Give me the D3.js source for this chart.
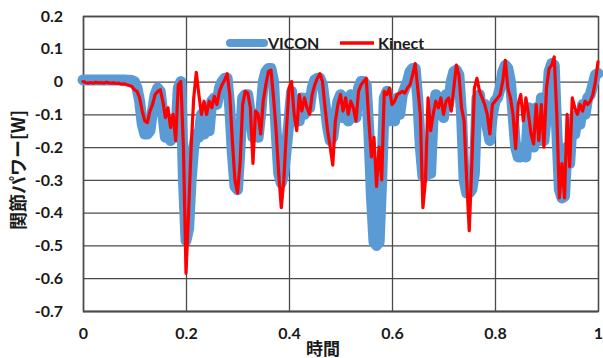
<!DOCTYPE html>
<html>
<head>
<meta charset="utf-8">
<script src="https://cdn.jsdelivr.net/npm/d3@7"></script>
<style>
  body { margin: 0; background: #fff; }
  svg { display: block; }
</style>
</head>
<body>
<svg id="chart" width="603" height="358"></svg>
<script>
// Joint power over normalised time, VICON (optical) vs Kinect estimate
const viconStep = 0.005;  // sample interval of the VICON series
const kinectStep = 0.005; // sample interval of the Kinect series

const viconPower = [
  0.005, 0.005, 0.005, 0.005, 0.005, 0.005, 0.005, 0.005, 0.005, 0.005,
  0.005, 0.005, 0.005, 0.005, 0.005, 0.005, 0.005, 0.004, 0.004, 0.003,
  0.0, -0.02, -0.06, -0.13, -0.16, -0.16, -0.15, -0.09, -0.04, -0.02,
  -0.03, -0.1, -0.17, -0.12, -0.18, -0.14, -0.17, -0.02, 0.0, -0.3,
  -0.485, -0.45, -0.3, -0.2, -0.16, -0.17, -0.1, -0.16, -0.08, -0.15,
  -0.06, -0.05, -0.07, -0.02, 0.0, 0.01, 0.01, -0.08, -0.22, -0.32,
  -0.33, -0.2, -0.05, -0.04, -0.04, -0.1, -0.17, -0.1, -0.17, -0.1,
  0.0, 0.03, 0.04, 0.04, 0.0, -0.15, -0.28, -0.31, -0.28, -0.2,
  -0.12, -0.03, -0.12, -0.06, -0.12, -0.05, -0.1, -0.05, -0.08, -0.02,
  0.005, 0.01, 0.01, -0.01, -0.07, -0.14, -0.18, -0.17, -0.11, -0.06,
  -0.04, -0.11, -0.05, -0.12, -0.04, -0.09, -0.11, -0.02, 0.0, 0.0,
  -0.01, -0.15, -0.35, -0.49, -0.5, -0.49, -0.3, -0.05, -0.03, -0.12,
  -0.06, -0.12, -0.05, -0.1, -0.04, -0.02, 0.0, 0.03, 0.04, 0.04,
  -0.05, -0.2, -0.29, -0.29, -0.2, -0.28, -0.1, -0.04, -0.1, -0.05,
  -0.11, -0.04, -0.07, 0.0, 0.03, 0.035, 0.02, -0.1, -0.3, -0.34,
  -0.34, -0.33, -0.28, -0.05, -0.04, -0.12, -0.07, -0.14, -0.18, -0.1,
  -0.06, -0.05, -0.02, 0.03, 0.05, 0.04, 0.0, -0.1, -0.2, -0.23,
  -0.23, -0.2, -0.23, -0.08, -0.15, -0.2, -0.08, -0.18, -0.05, -0.18,
  -0.1, 0.03, 0.055, 0.05, -0.15, -0.33, -0.355, -0.35, -0.2, -0.25,
  -0.12, -0.16, -0.1, -0.13, -0.07, -0.1, -0.05, -0.04, -0.01, 0.02,
  0.025
];

const kinectPower = [
  0.0, -0.003, -0.005, -0.003, -0.005, -0.002, -0.004, -0.003, -0.005, -0.002,
  -0.004, -0.005, -0.004, -0.006, -0.005, -0.008, -0.007, -0.01, -0.012, -0.015,
  -0.025, -0.03, -0.05, -0.09, -0.12, -0.125, -0.09, -0.07, -0.04, -0.03,
  -0.025, -0.06, -0.11, -0.08, -0.14, -0.1, -0.18, -0.01, 0.0, -0.2,
  -0.585, -0.4, -0.2, -0.05, 0.028, -0.04, -0.1, -0.06, -0.1, -0.06,
  -0.08, -0.045, -0.07, -0.03, -0.01, 0.005, 0.024, -0.04, -0.18, -0.3,
  -0.34, -0.25, -0.07, -0.03, -0.035, -0.08, -0.25, -0.09, -0.1, -0.16,
  -0.06, -0.01, 0.03, 0.035, -0.05, -0.15, -0.28, -0.385, -0.3, -0.15,
  -0.02, 0.0, -0.1, -0.15, -0.04, -0.09, -0.05, -0.08, -0.1, -0.04,
  -0.01, 0.01, 0.024, 0.0, -0.08, -0.15, -0.2, -0.255, -0.12, -0.07,
  -0.04, -0.09, -0.05, -0.1, -0.06, -0.08, -0.12, -0.03, -0.01, 0.0,
  0.01, -0.12, -0.23, -0.17, -0.32, -0.2, -0.3, -0.03, -0.04, -0.02,
  -0.07, -0.06, -0.04, -0.035, -0.03, -0.035, -0.02, -0.01, 0.02, 0.055,
  -0.02, -0.1, -0.385, -0.3, -0.05, -0.15, -0.1, -0.06, -0.08, -0.05,
  -0.1, -0.06, -0.05, -0.09, -0.02, 0.05, 0.02, -0.08, -0.12, -0.3,
  -0.455, -0.25, -0.02, 0.01, -0.03, -0.05, -0.07, -0.1, -0.16, -0.07,
  -0.06, -0.05, -0.04, 0.0, 0.065, -0.02, -0.05, -0.1, -0.205, -0.07,
  -0.04, -0.12, -0.05, -0.1, -0.16, -0.19, -0.07, -0.18, -0.07, -0.2,
  -0.02, 0.04, 0.05, 0.075, -0.1, -0.355, -0.25, -0.355, -0.1, -0.26,
  -0.05, -0.08, -0.1, -0.07, -0.09, -0.06, -0.07, -0.06, -0.04, 0.0,
  0.06
];

const xTickValues = [0, 0.2, 0.4, 0.6, 0.8, 1];
const yTickValues = [0.2, 0.1, 0, -0.1, -0.2, -0.3, -0.4, -0.5, -0.6, -0.7];
const seriesNames = ["VICON", "Kinect"];
const seriesColors = ["#5b9bd5", "#ff0000"];
const xTitle = "時間";
const yTitle = "関節パワー[W]";

const svg = d3.select("#chart");
const plot = { left: 83, right: 598, top: 16, bottom: 311 };

const x = d3.scaleLinear().domain([0, 1]).range([plot.left, plot.right]);
const y = d3.scaleLinear().domain([-0.7, 0.2]).range([plot.bottom, plot.top]);

const labelFont = "Lato, 'Open Sans', sans-serif";
const cjkFont = "'Noto Sans CJK JP', sans-serif";
const gridColor = "#4a4a4a";

// Horizontal gridlines + y tick labels
const yAxis = svg.append("g")
  .attr("transform", `translate(${plot.left},0)`)
  .call(d3.axisLeft(y)
    .tickValues(yTickValues)
    .tickFormat(d => String(d))
    .tickSize(-(plot.right - plot.left))
    .tickPadding(20));
yAxis.select(".domain").attr("stroke", gridColor).attr("stroke-width", 1.3);
yAxis.selectAll(".tick line").attr("stroke", gridColor).attr("stroke-width", 1.3);
yAxis.selectAll(".tick text")
  .attr("font-family", labelFont).attr("font-weight", 700)
  .attr("font-size", 16).attr("fill", "#1a1a1a");

// Vertical gridlines + x tick labels
const xAxis = svg.append("g")
  .attr("transform", `translate(0,${plot.bottom})`)
  .call(d3.axisBottom(x)
    .tickValues(xTickValues)
    .tickFormat(d => String(d))
    .tickSize(-(plot.bottom - plot.top))
    .tickPadding(17));
xAxis.select(".domain").attr("stroke", gridColor).attr("stroke-width", 1.3);
xAxis.selectAll(".tick line").attr("stroke", gridColor).attr("stroke-width", 1.3);
xAxis.selectAll(".tick text")
  .attr("font-family", labelFont).attr("font-weight", 700)
  .attr("font-size", 16).attr("fill", "#1a1a1a");

// Series lines
const viconLine = d3.line()
  .x((d, i) => x(i * viconStep))
  .y(d => y(d));
const kinectLine = d3.line()
  .x((d, i) => x(i * kinectStep))
  .y(d => y(d));

svg.append("path")
  .datum(viconPower)
  .attr("d", viconLine)
  .attr("fill", "none")
  .attr("stroke", seriesColors[0])
  .attr("stroke-width", 11)
  .attr("stroke-linejoin", "round")
  .attr("stroke-linecap", "round");

svg.append("path")
  .datum(kinectPower)
  .attr("d", kinectLine)
  .attr("fill", "none")
  .attr("stroke", seriesColors[1])
  .attr("stroke-width", 3.2)
  .attr("stroke-linejoin", "round")
  .attr("stroke-linecap", "round");

// Legend
const legend = svg.append("g").attr("transform", "translate(0,43)");
legend.append("line")
  .attr("x1", 230).attr("x2", 264).attr("y1", 0).attr("y2", 0)
  .attr("stroke", seriesColors[0]).attr("stroke-width", 8)
  .attr("stroke-linecap", "round");
legend.append("text")
  .attr("x", 268).attr("y", 5.5)
  .attr("font-family", labelFont).attr("font-weight", 700).attr("font-size", 16)
  .attr("fill", "#1a1a1a").text(seriesNames[0]);
legend.append("line")
  .attr("x1", 340).attr("x2", 374).attr("y1", 0).attr("y2", 0)
  .attr("stroke", seriesColors[1]).attr("stroke-width", 3.5);
legend.append("text")
  .attr("x", 378).attr("y", 5.5)
  .attr("font-family", labelFont).attr("font-weight", 700).attr("font-size", 16)
  .attr("fill", "#1a1a1a").text(seriesNames[1]);

// Axis titles
svg.append("text")
  .attr("transform", "translate(25,170) rotate(-90)")
  .attr("text-anchor", "middle")
  .attr("font-family", cjkFont).attr("font-weight", 700).attr("font-size", 18)
  .attr("fill", "#1a1a1a").text(yTitle);
svg.append("text")
  .attr("x", 323).attr("y", 355)
  .attr("text-anchor", "middle")
  .attr("font-family", cjkFont).attr("font-weight", 700).attr("font-size", 17)
  .attr("fill", "#1a1a1a").text(xTitle);
</script>
</body>
</html>
